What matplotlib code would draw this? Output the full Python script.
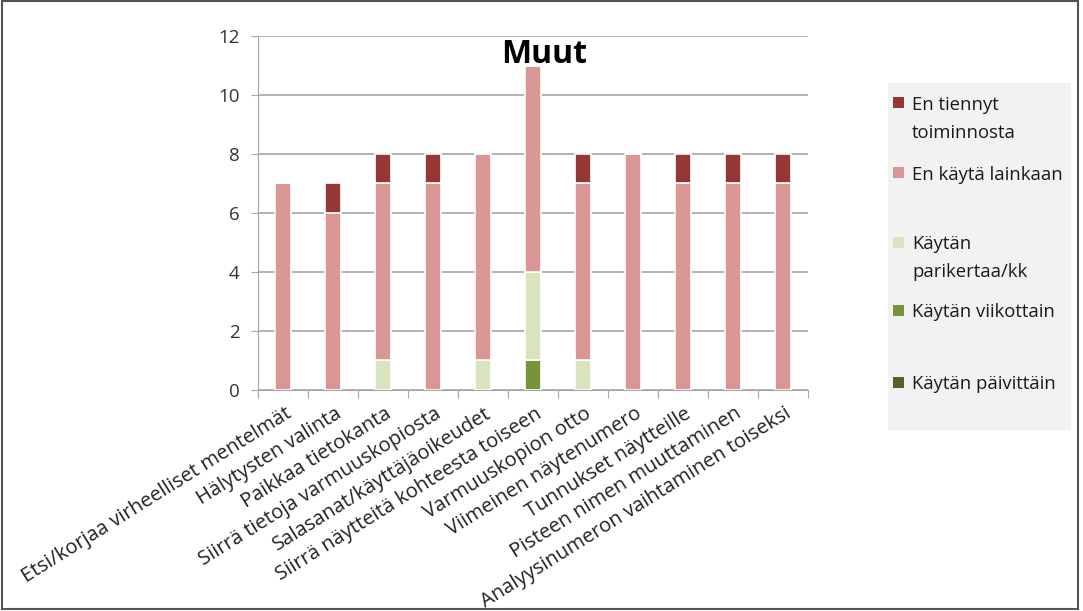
import numpy as np
import matplotlib.pyplot as plt
import matplotlib.patches as pat

categories = ["Etsi/korjaa virheelliset mentelmät", "Hälytysten valinta", "Paikkaa tietokanta",
              "Siirrä tietoja varmuuskopiosta", "Salasanat/käyttäjäoikeudet",
              "Siirrä näytteitä kohteesta toiseen", "Varmuuskopion otto", "Viimeinen näytenumero",
              "Tunnukset näytteille", "Pisteen nimen muuttaminen", "Analyysinumeron vaihtaminen toiseksi"]

# stacked bottom -> top
paivittain = [0, 0, 0, 0, 0, 0, 0, 0, 0, 0, 0]
viikottain = [0, 0, 0, 0, 0, 1, 0, 0, 0, 0, 0]
parikertaa = [0, 0, 1, 0, 1, 3, 1, 0, 0, 0, 0]
ei_kayta = [7, 6, 6, 7, 7, 7, 6, 8, 7, 7, 7]
ei_tiennyt = [0, 1, 1, 1, 0, 0, 1, 0, 1, 1, 1]

series = [("Käytän päivittäin", paivittain, "#4F6228"),
          ("Käytän viikottain", viikottain, "#77933C"),
          ("Käytän parikertaa/kk", parikertaa, "#D7E4BD"),
          ("En käytä lainkaan", ei_kayta, "#D99694"),
          ("En tiennyt toiminnosta", ei_tiennyt, "#953735")]

plt.rcParams['font.family'] = ['Open Sans', 'DejaVu Sans']

fig = plt.figure(figsize=(10.83, 6.11), dpi=100)
ax = fig.add_axes([0.238, 0.362, 0.508, 0.579])

x = np.arange(len(categories))
bottom = np.zeros(len(categories))
for name, vals, col in series:
    v = np.array(vals, dtype=float)
    ax.bar(x, v, 0.33, bottom=bottom, color=col, edgecolor='white', linewidth=1.2, zorder=3)
    bottom += v

ax.set_xlim(-0.5, len(categories) - 0.5)
ax.set_ylim(0, 12)
ax.set_yticks(range(0, 13, 2))
ax.yaxis.grid(True, color='#A6A6A6', linewidth=1.2, zorder=0)
for s in ['top', 'right']:
    ax.spines[s].set_visible(False)
ax.spines['left'].set_color('#A6A6A6')
ax.spines['bottom'].set_color('#A6A6A6')
ax.tick_params(axis='y', colors='#A6A6A6', labelcolor='#333333', labelsize=13.5, length=5,
               direction='out', pad=8)

ax.set_xticks(np.arange(-0.5, len(categories)), minor=False)
ax.set_xticklabels([])
ax.tick_params(axis='x', colors='#A6A6A6', length=6, direction='out')
for i, c in enumerate(categories):
    ax.annotate(c, xy=(i, 0), xycoords='data', xytext=(5, -16), textcoords='offset points',
                rotation=32, rotation_mode='anchor', ha='right', va='center',
                fontsize=14.5, color='#222222')

fig.text(0.502, 0.91, "Muut", ha='center', va='center', fontsize=23, fontweight='bold', color='black')

# legend panel
fig.patches.append(pat.Rectangle((888 / 1083, 1 - 430 / 611), 183 / 1083, 347 / 611,
                                 transform=fig.transFigure, facecolor='#F2F2F2', edgecolor='none'))
legend_rows = [(["En tiennyt", "toiminnosta"], 103, series[4][2]),
               (["En käytä lainkaan"], 173, series[3][2]),
               (["Käytän", "parikertaa/kk"], 242, series[2][2]),
               (["Käytän viikottain"], 310, series[1][2]),
               (["Käytän päivittäin"], 382, series[0][2])]
for lines, yp, col in legend_rows:
    fig.patches.append(pat.Rectangle((893 / 1083, 1 - (yp + 5.5) / 611), 11 / 1083, 11 / 611,
                                     transform=fig.transFigure, facecolor=col, edgecolor='none'))
    for k, t in enumerate(lines):
        fig.text(912 / 1083, 1 - (yp + 28 * k) / 611, t, ha='left', va='center_baseline',
                 fontsize=13.3, color='#1a1a1a')

# outer frame
fig.patches.append(pat.Rectangle((0.002, 0.004), 0.993, 0.994, transform=fig.transFigure,
                                 facecolor='none', edgecolor='#555555', linewidth=1.5))

plt.savefig('out.png', dpi=100)
